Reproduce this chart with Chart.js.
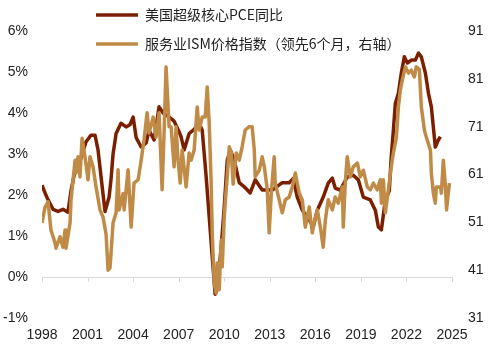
<!DOCTYPE html>
<html>
<head>
<meta charset="utf-8">
<script src="https://cdn.jsdelivr.net/npm/chart.js@4.4.1/dist/chart.umd.min.js"></script>
<style>
  html, body { margin: 0; padding: 0; background: #fff; }
  #wrap { width: 488px; height: 348px; }
</style>
</head>
<body>
<div id="wrap"><canvas id="pceChart"></canvas></div>
<script>
// super core PCE yoy (%), decimal years
const pceYears = [1998.0, 1998.2, 1998.4, 1998.73, 1999.05, 1999.38, 1999.71, 1999.91, 2000.18, 2000.57,
  2000.9, 2001.23, 2001.49, 2001.69, 2001.89, 2002.15, 2002.42, 2002.55, 2002.68, 2002.88,
  2003.2, 2003.54, 2003.8, 2004.0, 2004.2, 2004.53, 2004.86, 2005.05, 2005.38, 2005.71,
  2005.98, 2006.37, 2006.7, 2006.96, 2007.16, 2007.36, 2007.69, 2008.02, 2008.35, 2008.55,
  2008.81, 2009.01, 2009.21, 2009.4, 2009.54, 2009.8, 2010.0, 2010.2, 2010.4, 2010.66,
  2010.99, 2011.32, 2011.71, 2012.04, 2012.5, 2013.16, 2013.82, 2014.28, 2014.55, 2014.81,
  2015.14, 2015.6, 2015.86, 2016.13, 2016.52, 2016.85, 2017.12, 2017.31, 2017.64, 2018.1,
  2018.5, 2018.83, 2019.16, 2019.62, 2019.95, 2020.15, 2020.35, 2020.61, 2020.87, 2021.0,
  2021.14, 2021.27, 2021.47, 2021.66, 2021.86, 2022.06, 2022.32, 2022.59, 2022.79, 2022.98,
  2023.25, 2023.45, 2023.64, 2023.77, 2023.9, 2024.1, 2024.24]
const pceValues = [2.24, 2.05, 1.88, 1.65, 1.6, 1.65, 1.58, 2.1, 2.6, 2.9,
  3.3, 3.46, 3.46, 3.1, 2.44, 1.6, 1.95, 2.4, 3.0, 3.5,
  3.75, 3.66, 3.72, 3.9, 3.4, 3.17, 3.27, 3.58, 3.34, 4.15,
  4.0, 3.9, 3.8, 3.6, 3.42, 3.1, 3.5, 3.6, 3.75, 3.58,
  2.45, 1.47, 0.5, -0.42, -0.3, 0.73, 1.7, 2.85, 3.1, 2.85,
  2.3, 2.2, 2.05, 2.37, 2.12, 2.12, 2.3, 2.3, 2.4, 1.95,
  1.63, 1.4, 1.22, 1.63, 1.95, 2.29, 2.41, 2.17, 2.12, 2.44,
  2.48, 2.37, 1.95, 1.88, 1.63, 1.22, 1.15, 1.88, 2.1, 2.93,
  3.58, 4.24, 4.48, 4.97, 5.37, 5.22, 5.29, 5.29, 5.46, 5.37,
  4.97, 4.48, 4.15, 3.66, 3.17, 3.34, 3.42]

// ISM services prices, led 6 months (right axis)
const ismYears = [1998.0, 1998.2, 1998.4, 1998.59, 1998.86, 1998.92, 1999.19, 1999.38, 1999.52, 1999.58,
  1999.85, 1999.91, 2000.18, 2000.24, 2000.37, 2000.5, 2000.64, 2000.83, 2001.03, 2001.16,
  2001.36, 2001.56, 2001.82, 2002.02, 2002.22, 2002.35, 2002.48, 2002.68, 2002.88, 2003.01,
  2003.08, 2003.34, 2003.41, 2003.67, 2003.87, 2004.06, 2004.33, 2004.53, 2004.72, 2004.92,
  2005.05, 2005.32, 2005.51, 2005.71, 2005.91, 2006.04, 2006.17, 2006.37, 2006.5, 2006.7,
  2006.83, 2006.96, 2007.1, 2007.23, 2007.49, 2007.69, 2007.82, 2008.02, 2008.22, 2008.35,
  2008.55, 2008.75, 2008.88, 2009.01, 2009.14, 2009.21, 2009.34, 2009.47, 2009.54, 2009.67,
  2009.8, 2009.87, 2010.0, 2010.13, 2010.2, 2010.33, 2010.46, 2010.59, 2010.79, 2010.99,
  2011.18, 2011.38, 2011.65, 2011.84, 2011.98, 2012.04, 2012.31, 2012.5, 2012.64, 2012.83,
  2012.96, 2013.1, 2013.29, 2013.36, 2013.62, 2013.82, 2014.02, 2014.28, 2014.48, 2014.68,
  2014.94, 2015.14, 2015.34, 2015.6, 2015.8, 2015.86, 2016.13, 2016.33, 2016.52, 2016.66,
  2016.85, 2017.12, 2017.31, 2017.51, 2017.78, 2017.84, 2017.97, 2018.1, 2018.3, 2018.5,
  2018.77, 2018.96, 2019.16, 2019.42, 2019.62, 2019.82, 2020.08, 2020.28, 2020.35, 2020.48,
  2020.61, 2020.81, 2021.0, 2021.14, 2021.34, 2021.47, 2021.6, 2021.73, 2021.93, 2022.13,
  2022.32, 2022.52, 2022.65, 2022.85, 2022.98, 2023.18, 2023.31, 2023.58, 2023.64, 2023.77,
  2023.9, 2023.97, 2024.24, 2024.3, 2024.43, 2024.57, 2024.64, 2024.83]
const ismValues = [50.9, 54.2, 55.3, 49.4, 46.7, 45.6, 48, 45.8, 49.4, 45.6,
  50.9, 55.7, 64, 61.3, 64.7, 60.5, 68.6, 64.7, 59.9, 64.7,
  62.6, 58.4, 53.6, 52.1, 48.5, 41, 41.5, 50.9, 53, 62,
  53.6, 57, 53.6, 62, 50, 59.2, 59.9, 64, 68.2, 73.9,
  69.7, 73, 68.8, 73.9, 57.8, 69.7, 83.5, 71, 71, 62.6,
  71, 64, 59.2, 66.1, 58.4, 65.5, 64, 66.1, 75.1, 70.3,
  73, 73, 79.3, 71.8, 59.2, 48.8, 38.3, 36.2, 42.5, 36.9,
  47.3, 41.7, 52.1, 57.8, 60.5, 66.8, 65.5, 59, 65.5, 64,
  66.8, 70.3, 71, 71, 66.1, 60.5, 61.9, 64.7, 62.6, 58,
  48.8, 57.1, 64.7, 59.2, 55.7, 53, 55.7, 56.3, 58.4, 61.3,
  57.1, 55.7, 50, 54.2, 48.8, 50, 53.6, 50, 45.8, 51.5,
  55.7, 53.6, 56.3, 55, 58.4, 50, 59.2, 64.7, 60.5, 62.6,
  63.4, 60.5, 61.9, 58.4, 57.8, 59.2, 57.8, 59.9, 55, 59.9,
  53, 57.8, 62.6, 65.5, 68.8, 75.1, 78.7, 80.8, 83.5, 82.2,
  82.8, 81.4, 83.5, 83, 75.1, 70.3, 68.8, 66.1, 61.3, 57.1,
  55, 58.4, 58.4, 57.1, 64, 58.4, 53.6, 59.2]

const leftTicks = [-1, 0, 1, 2, 3, 4, 5, 6]
const rightTicks = [31, 41, 51, 61, 71, 81, 91]
const yearTicks = [1998, 2001, 2004, 2007, 2010, 2013, 2016, 2019, 2022, 2025]

const toPoints = (xs, ys) => xs.map((x, i) => ({ x: x, y: ys[i] }))

// zero line with small year ticks under it, like the excel axis
const zeroAxis = {
  id: 'zeroAxis',
  beforeDatasetsDraw(chart) {
    const { ctx, chartArea, scales } = chart
    const y0 = scales.y.getPixelForValue(0)
    ctx.save()
    ctx.strokeStyle = '#d9d9d9'
    ctx.lineWidth = 1
    ctx.beginPath()
    ctx.moveTo(chartArea.left, y0 + 0.5)
    ctx.lineTo(chartArea.right, y0 + 0.5)
    yearTicks.forEach(yr => {
      const x = Math.round(scales.x.getPixelForValue(yr)) + 0.5
      ctx.moveTo(x, y0)
      ctx.lineTo(x, y0 + 5)
    })
    ctx.stroke()
    ctx.restore()
  }
}

// legend sits over the plot, stacked, starting at x ~96
const legendSpot = {
  id: 'legendSpot',
  afterLayout(chart) {
    const lg = chart.legend
    const w = lg.width, h = lg.height
    lg.left = 81
    lg.top = -7
    lg.right = lg.left + w
    lg.bottom = lg.top + h
  }
}

const ctx = document.getElementById('pceChart').getContext('2d')
const pceChart = new Chart(ctx, {
  type: 'line',
  data: {
    datasets: [{
      label: '美国超级核心PCE同比',
      data: toPoints(pceYears, pceValues),
      borderColor: '#7a2000',
      backgroundColor: '#7a2000',
      borderWidth: 3.5,
      borderJoinStyle: 'round',
      pointRadius: 0,
      tension: 0,
      yAxisID: 'y',
      order: 1
    }, {
      label: '服务业ISM价格指数（领先6个月，右轴）',
      data: toPoints(ismYears, ismValues),
      borderColor: '#c08b47',
      backgroundColor: '#c08b47',
      borderWidth: 3.5,
      borderJoinStyle: 'round',
      pointRadius: 0,
      tension: 0,
      yAxisID: 'y1',
      order: 0
    }]
  },
  options: {
    responsive: true,
    maintainAspectRatio: false,
    animation: false,
    layout: { padding: { top: 31, left: 0, right: 0, bottom: 0 } },
    plugins: {
      legend: {
        position: 'chartArea',
        align: 'start',
        labels: {
          usePointStyle: true,
          pointStyle: 'line',
          pointStyleWidth: 42,
          boxHeight: 14,
          padding: 15,
          color: '#222',
          font: { family: '"Noto Sans CJK SC", sans-serif', size: 14 },
          sort: (a, b) => a.datasetIndex - b.datasetIndex
        }
      },
      tooltip: { enabled: false }
    },
    scales: {
      x: {
        type: 'linear',
        min: 1998,
        max: 2025,
        afterBuildTicks: s => { s.ticks = yearTicks.map(v => ({ value: v })) },
        afterFit: s => { s.height = 30 },
        grid: { display: false, drawTicks: false },
        border: { display: false },
        ticks: {
          callback: v => String(v),
          padding: 9,
          maxRotation: 0,
          autoSkip: false,
          color: '#222',
          font: { family: '"Liberation Sans", Arial, sans-serif', size: 14 }
        }
      },
      y: {
        position: 'left',
        min: -1,
        max: 6,
        afterBuildTicks: s => { s.ticks = leftTicks.map(v => ({ value: v })) },
        afterFit: s => { s.width = 42 },
        grid: { display: false, drawTicks: false },
        border: { display: false },
        ticks: {
          callback: v => v + '%',
          padding: 14,
          color: '#222',
          font: { family: '"Liberation Sans", Arial, sans-serif', size: 14 }
        }
      },
      y1: {
        position: 'right',
        min: 31,
        max: 91,
        afterBuildTicks: s => { s.ticks = rightTicks.map(v => ({ value: v })) },
        afterFit: s => { s.width = 36 },
        grid: { display: false, drawTicks: false },
        border: { display: false },
        ticks: {
          padding: 16,
          color: '#222',
          font: { family: '"Liberation Sans", Arial, sans-serif', size: 14 }
        }
      }
    }
  },
  plugins: [zeroAxis, legendSpot]
})
</script>
</body>
</html>
